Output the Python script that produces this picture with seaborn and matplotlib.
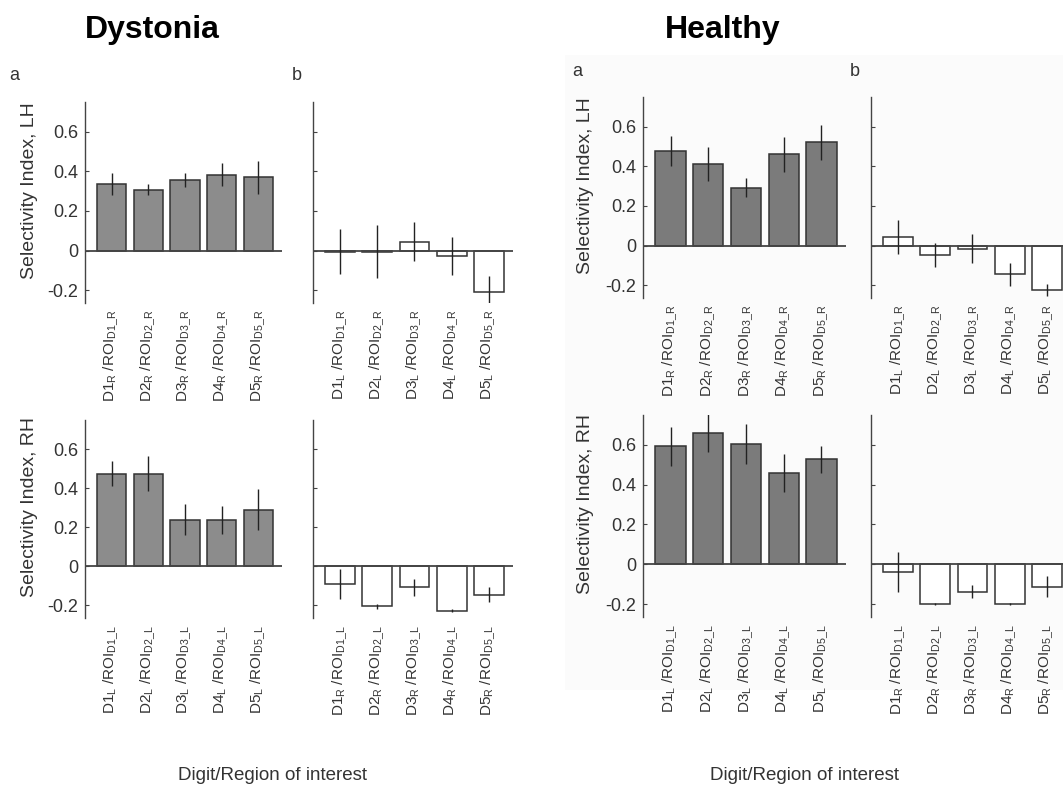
import matplotlib
matplotlib.use("Agg")
import matplotlib.pyplot as plt
import seaborn as sns
from matplotlib.patches import Rectangle

sns.set_style("white")
plt.rcParams['font.family'] = ['Liberation Sans', 'DejaVu Sans']
plt.rcParams['mathtext.fontset'] = 'custom'
plt.rcParams['mathtext.rm'] = 'Liberation Sans'
plt.rcParams['mathtext.it'] = 'Liberation Sans:italic'
plt.rcParams['mathtext.bf'] = 'Liberation Sans:bold'

# Data
digits = [1, 2, 3, 4, 5]

# Dystonia
dys_lh_a = [0.337, 0.308, 0.358, 0.383, 0.370]
dys_lh_a_err = [0.055, 0.030, 0.035, 0.058, 0.083]
dys_lh_b = [-0.005, -0.005, 0.045, -0.029, -0.207]
dys_lh_b_err = [0.115, 0.135, 0.100, 0.097, 0.080]
dys_rh_a = [0.475, 0.475, 0.238, 0.238, 0.290]
dys_rh_a_err = [0.063, 0.088, 0.080, 0.070, 0.105]
dys_rh_b = [-0.092, -0.205, -0.108, -0.228, -0.145]
dys_rh_b_err = [0.077, 0.012, 0.043, 0.008, 0.037]

# Healthy
hea_lh_a = [0.477, 0.411, 0.291, 0.460, 0.521]
hea_lh_a_err = [0.077, 0.085, 0.048, 0.089, 0.088]
hea_lh_b = [0.044, -0.049, -0.016, -0.146, -0.223]
hea_lh_b_err = [0.087, 0.061, 0.074, 0.057, 0.030]
hea_rh_a = [0.592, 0.662, 0.605, 0.459, 0.528]
hea_rh_a_err = [0.100, 0.100, 0.102, 0.097, 0.067]
hea_rh_b = [-0.038, -0.200, -0.137, -0.200, -0.112]
hea_rh_b_err = [0.102, 0.005, 0.032, 0.005, 0.055]

yticks = [-0.2, 0, 0.2, 0.4, 0.6]
ytick_labels = ['-0.2', '0', '0.2', '0.4', '0.6']


def make_labels(digit_side, roi_side):
    return [r'D%d$_\mathrm{%s}$ /ROI$_\mathrm{D%d\_%s}$' % (d, digit_side, d, roi_side)
            for d in digits]


W, H = 1063, 790
fig = plt.figure(figsize=(W / 100, H / 100), dpi=100)

# faint grey backdrop behind the Healthy half (scanned figure)
fig.patches.append(Rectangle((565 / W, 1 - 690 / H), (W - 565) / W, (690 - 55) / H,
                             transform=fig.transFigure, facecolor='#fbfbfb',
                             edgecolor='none', zorder=-10))


def add_ax(left, top, right, bottom):
    return fig.add_axes([left / W, 1 - bottom / H, (right - left) / W, (bottom - top) / H])


txt = '#333333'


def panel(ax, vals, errs, labels, filled, bar_color, ylabel=None):
    sns.barplot(x=labels, y=vals, ax=ax, color=bar_color if filled else 'white',
                edgecolor='#333333', linewidth=1.1, width=0.8, saturation=1)
    ax.errorbar(range(len(vals)), vals, yerr=errs, fmt='none', ecolor='#222222',
                elinewidth=1.0, capsize=0, zorder=5)
    ax.axhline(0, color='#444444', lw=1.3, zorder=4)
    ax.set_xlim(-0.73, 4.65)
    ax.set_ylim(-0.265, 0.75)
    ax.set_yticks(yticks)
    for s in ['top', 'right', 'bottom']:
        ax.spines[s].set_visible(False)
    ax.spines['left'].set_color('#444444')
    ax.spines['left'].set_linewidth(1.0)
    ax.tick_params(axis='y', direction='in', length=3, color='#444444', labelsize=13,
                   labelcolor=txt, left=True, pad=5)
    ax.tick_params(axis='x', length=0, pad=5, labelsize=11, labelcolor=txt)
    plt.setp(ax.get_xticklabels(), rotation=90)
    if ylabel:
        ax.set_yticklabels(ytick_labels)
        ax.set_ylabel(ylabel, fontsize=14, color=txt)
        ax.yaxis.set_label_coords(-0.24, 0.56)
    else:
        ax.set_yticklabels([])
    ax.patch.set_alpha(0)
    ax.set_zorder(1)


dys_col = '#8c8c8c'
hea_col = '#7b7b7b'

# Dystonia
panel(add_ax(85, 102, 282, 303), dys_lh_a, dys_lh_a_err, make_labels('R', 'R'),
      True, dys_col, 'Selectivity Index, LH')
panel(add_ax(313, 102, 513, 303), dys_lh_b, dys_lh_b_err, make_labels('L', 'R'),
      False, dys_col)
panel(add_ax(85, 420, 282, 618), dys_rh_a, dys_rh_a_err, make_labels('L', 'L'),
      True, dys_col, 'Selectivity Index, RH')
panel(add_ax(313, 420, 513, 618), dys_rh_b, dys_rh_b_err, make_labels('R', 'L'),
      False, dys_col)

# Healthy
panel(add_ax(643, 97, 846, 298), hea_lh_a, hea_lh_a_err, make_labels('R', 'R'),
      True, hea_col, 'Selectivity Index, LH')
panel(add_ax(871, 97, 1071, 298), hea_lh_b, hea_lh_b_err, make_labels('L', 'R'),
      False, hea_col)
panel(add_ax(643, 415, 846, 617), hea_rh_a, hea_rh_a_err, make_labels('L', 'L'),
      True, hea_col, 'Selectivity Index, RH')
panel(add_ax(871, 415, 1071, 617), hea_rh_b, hea_rh_b_err, make_labels('R', 'L'),
      False, hea_col)

# Titles, panel letters, x labels
fig.text(152 / W, 1 - 30 / H, 'Dystonia', fontsize=23, fontweight='bold',
         ha='center', va='center', color='black')
fig.text(723 / W, 1 - 30 / H, 'Healthy', fontsize=23, fontweight='bold',
         ha='center', va='center', color='black')
for x, y, s in [(14, 75, 'a'), (297, 75, 'b'), (577, 72, 'a'), (855, 72, 'b')]:
    fig.text(x / W, 1 - y / H, s, fontsize=13, ha='center', va='center', color=txt)
fig.text(272 / W, 1 - 775 / H, 'Digit/Region of interest', fontsize=13.5,
         ha='center', va='center', color=txt)
fig.text(805 / W, 1 - 775 / H, 'Digit/Region of interest', fontsize=13.5,
         ha='center', va='center', color=txt)

fig.savefig('out.png', dpi=100)
